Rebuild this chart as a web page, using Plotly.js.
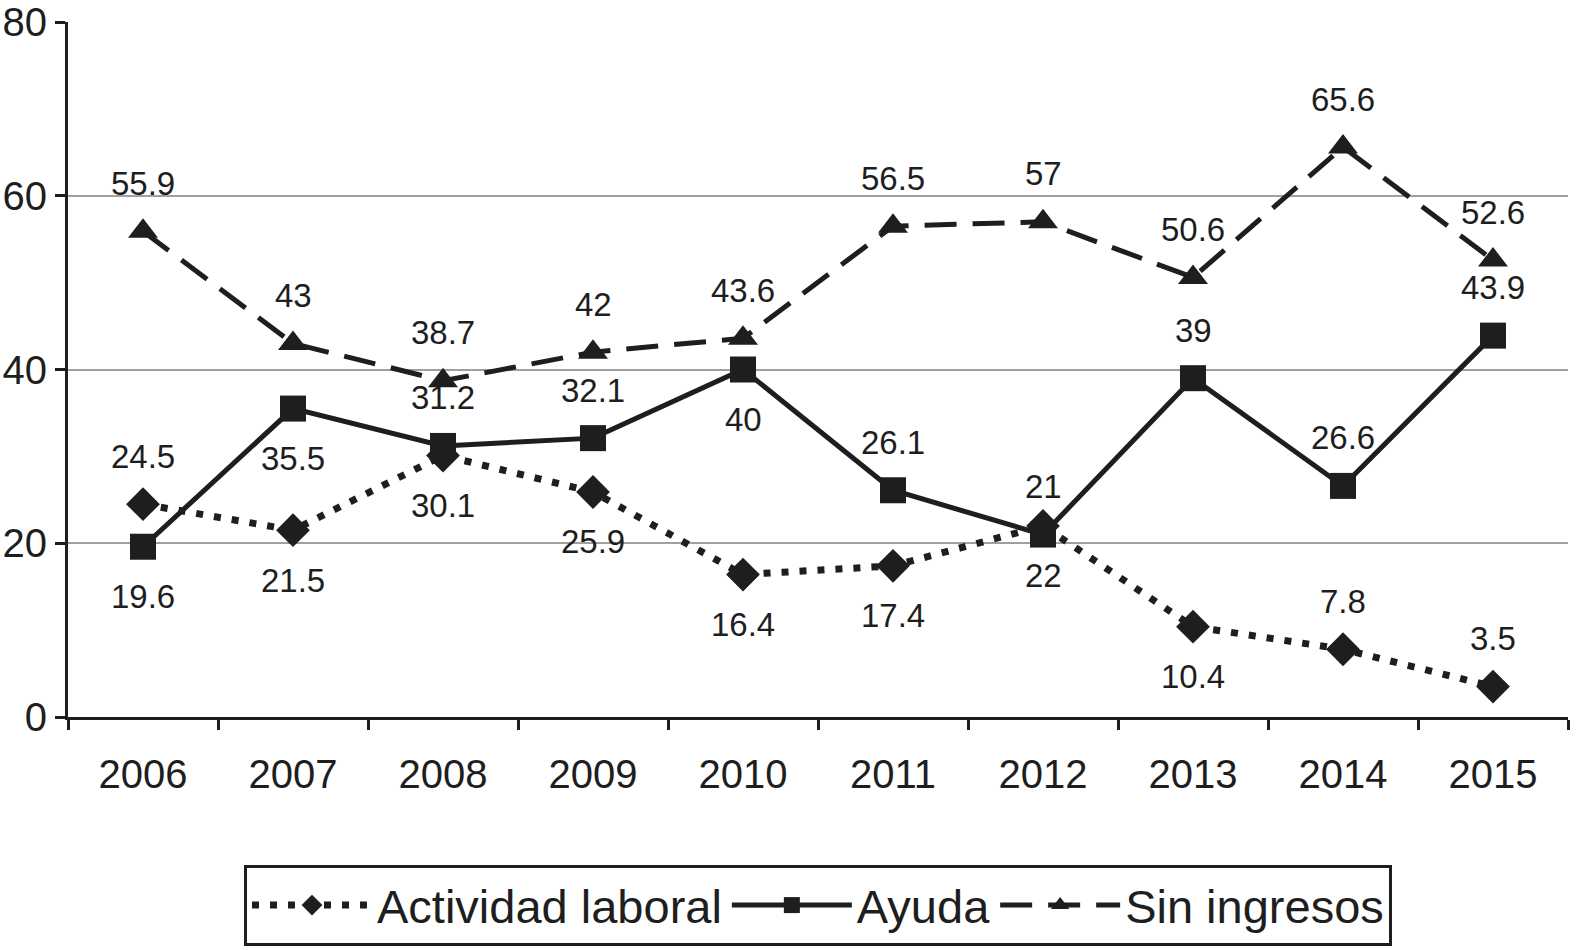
<!DOCTYPE html>
<html>
<head>
<meta charset="utf-8">
<script src="https://cdn.plot.ly/plotly-3.0.1.min.js"></script>
<style>
  html, body { margin: 0; padding: 0; background: #fff; }
  #chart { width: 1576px; height: 950px; }
</style>
</head>
<body>
<div id="chart"></div>
<script>
const years = ['2006', '2007', '2008', '2009', '2010', '2011', '2012', '2013', '2014', '2015']
const actividad = [24.5, 21.5, 30.1, 25.9, 16.4, 17.4, 22, 10.4, 7.8, 3.5]
const ayuda = [19.6, 35.5, 31.2, 32.1, 40, 26.1, 21, 39, 26.6, 43.9]
const sinIngresos = [55.9, 43, 38.7, 42, 43.6, 56.5, 57, 50.6, 65.6, 52.6]

// which side of the point each value label sits on
const actividadSide = ['up', 'down', 'down', 'down', 'down', 'down', 'down', 'down', 'up', 'up']
const ayudaSide = ['down', 'down', 'up', 'up', 'down', 'up', 'up', 'up', 'up', 'up']
const sinSide = ['up', 'up', 'up', 'up', 'up', 'up', 'up', 'up', 'up', 'up']

const ink = '#1e1e1e'
const FONT = 'Liberation Sans, Arial, Helvetica, sans-serif'

window.addEventListener('load', () => {
  drawChart()
})

/**
 * Value labels above or below each point, placed on the data scale
 */
function labelsFor (values, sides) {
  return values.map(function (v, i) {
    return {
      xref: 'x',
      yref: 'y',
      x: i,
      y: v,
      text: String(v),
      showarrow: false,
      yshift: sides[i] === 'up' ? 48 : -50,
      font: { family: FONT, size: 33, color: ink }
    }
  })
}

function drawChart () {
  const data = [{
    x: years,
    y: actividad,
    name: 'Actividad laboral',
    type: 'scatter',
    mode: 'lines+markers',
    line: { color: ink, width: 7, dash: '7px,11px' },
    marker: { symbol: 'diamond', size: 26, color: ink }
  }, {
    x: years,
    y: ayuda,
    name: 'Ayuda',
    type: 'scatter',
    mode: 'lines+markers',
    line: { color: ink, width: 5 },
    marker: { symbol: 'square', size: 26, color: ink }
  }, {
    x: years,
    y: sinIngresos,
    name: 'Sin ingresos',
    type: 'scatter',
    mode: 'lines+markers',
    line: { color: ink, width: 5, dash: '32px,16px' },
    marker: { symbol: 'triangle-up', size: 26, color: ink }
  }]

  const annotations = []
    .concat(labelsFor(actividad, actividadSide))
    .concat(labelsFor(ayuda, ayudaSide))
    .concat(labelsFor(sinIngresos, sinSide))

  const layout = {
    width: 1576,
    height: 950,
    margin: { l: 68, r: 8, t: 22, b: 233, autoexpand: false },
    paper_bgcolor: '#fff',
    plot_bgcolor: '#fff',
    font: { family: FONT, color: ink },
    showlegend: true,
    legend: {
      orientation: 'h',
      x: 0.5,
      xanchor: 'center',
      y: -0.213,
      yanchor: 'top',
      bordercolor: ink,
      borderwidth: 3,
      itemwidth: 120,
      font: { family: FONT, size: 47, color: ink }
    },
    xaxis: {
      type: 'category',
      range: [-0.5, 9.5],
      showline: true,
      linecolor: ink,
      linewidth: 3,
      ticks: 'outside',
      tickson: 'boundaries',
      ticklen: 10,
      tickwidth: 3,
      tickcolor: ink,
      ticklabelstandoff: 20,
      showgrid: false,
      tickfont: { family: FONT, size: 40, color: ink }
    },
    yaxis: {
      range: [0, 80],
      dtick: 20,
      showline: true,
      linecolor: ink,
      linewidth: 3,
      ticks: 'outside',
      ticklen: 10,
      tickwidth: 3,
      tickcolor: ink,
      zeroline: false,
      showgrid: true,
      gridcolor: '#a0a0a0',
      gridwidth: 2,
      tickfont: { family: FONT, size: 40, color: ink }
    },
    annotations: annotations
  }

  Plotly.newPlot('chart', data, layout, { displayModeBar: false, staticPlot: true })
}
</script>
</body>
</html>
